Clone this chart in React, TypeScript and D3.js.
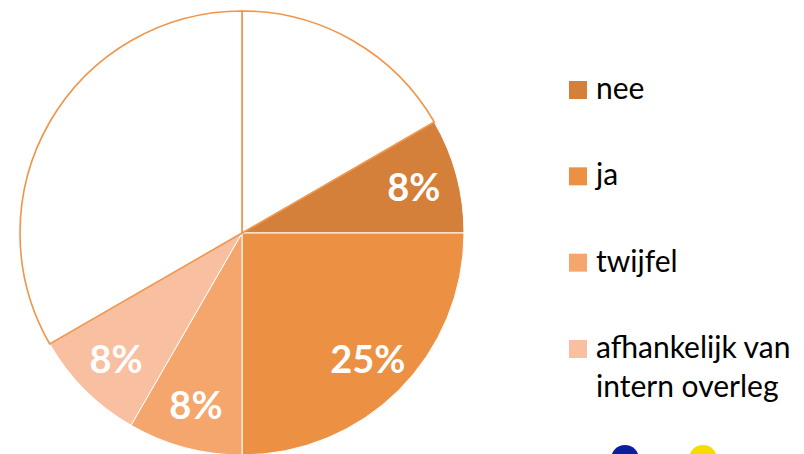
import React from "react";
import * as d3 from "d3";

const categories = ["", "nee", "ja", "twijfel", "afhankelijk van intern overleg", ""];
const values = [2, 1, 3, 1, 1, 4];
const colors = ["#ffffff", "#D4803A", "#EC9144", "#F5A66D", "#F8BFA0", "#ffffff"];
const legendItems = [
  { label: ["nee"], color: "#D4803A" },
  { label: ["ja"], color: "#EC9144" },
  { label: ["twijfel"], color: "#F5A66D" },
  { label: ["afhankelijk van", "intern overleg"], color: "#F8BFA0" },
];
const extraDots = ["#0B1EA0", "#F5DB00"];

export default function App() {
  const W = 804, H = 454;
  const cx = 242, cy = 233, R = 222;
  const total = d3.sum(values);
  const pie = d3.pie<number>().sort(null).startAngle(0).endAngle(2 * Math.PI);
  const arcs = pie(values);
  const arc = d3.arc<d3.PieArcDatum<number>>().innerRadius(0).outerRadius(R);
  const labelArc = d3.arc<d3.PieArcDatum<number>>().innerRadius(178).outerRadius(178);
  const fmt = d3.format(".0%");
  const legendY = d3.scalePoint<number>().domain(d3.range(legendItems.length)).range([99, 358]);
  const dotX = d3.scalePoint<number>().domain(d3.range(extraDots.length)).range([625, 703]);

  return (
    <svg width={W} height={H} style={{ position: "fixed", left: 0, top: 0, background: "#fff" }}>
      <g transform={`translate(${cx},${cy})`}>
        {arcs.map((a, i) =>
          categories[i] ? (
            <path key={"c" + i} d={arc(a) || ""} fill={colors[i]} stroke="#fff" strokeWidth={1} />
          ) : null
        )}
        {arcs.map((a, i) =>
          !categories[i] ? (
            <path key={"w" + i} d={arc(a) || ""} fill="#fff" stroke="#F0954A" strokeWidth={1.6} />
          ) : null
        )}
        {arcs.map((a, i) => {
          if (!categories[i]) return null;
          const [x, y] = labelArc.centroid(a);
          return (
            <text
              key={"l" + i}
              x={x}
              y={y}
              dy="0.38em"
              textAnchor="middle"
              fill="#fff"
              fontFamily="Lato, sans-serif"
              fontWeight={700}
              fontSize={38}
            >
              {fmt(values[i] / total)}
            </text>
          );
        })}
      </g>
      {legendItems.map((it, i) => (
        <g key={"lg" + i}>
          <rect x={569} y={legendY(i)! - 18} width={18} height={18} fill={it.color} />
          {it.label.map((t, j) => (
            <text
              key={j}
              x={596}
              y={legendY(i)! + j * 39}
              fontFamily="Lato, sans-serif"
              fontSize={30}
              fill="#000"
            >
              {t}
            </text>
          ))}
        </g>
      ))}
      {extraDots.map((c, i) => (
        <circle key={"d" + i} cx={dotX(i)} cy={459} r={14} fill={c} />
      ))}
    </svg>
  );
}
